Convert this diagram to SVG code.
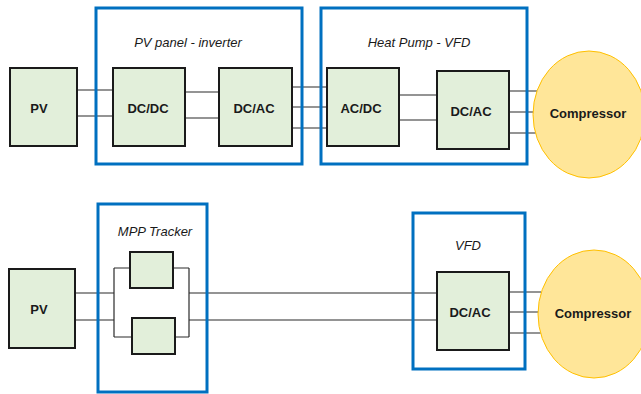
<svg xmlns="http://www.w3.org/2000/svg" width="641" height="394" viewBox="0 0 641 394">
<style>
.blk{fill:#E2EFDA;stroke:#1a1a1a;stroke-width:2}
.grp{fill:none;stroke:#0070C0;stroke-width:3}
.cmp{fill:#FFE699;stroke:#FFC000;stroke-width:1}
.w{stroke:#2b2b2b;stroke-width:1.2;fill:none}
.lbl{font-family:"Liberation Sans",Arial,sans-serif;font-weight:bold;font-size:13px;fill:#1a1a1a;text-anchor:middle;dominant-baseline:central}
.ttl{font-family:"Liberation Sans",Arial,sans-serif;font-style:italic;font-size:13px;fill:#1a1a1a;text-anchor:middle;dominant-baseline:central}
</style>
<rect width="641" height="394" fill="#ffffff"/>
<g id="connectors">
<path class="w" d="M77 90H113M77 116H113"/>
<path class="w" d="M183 92H219M183 118H219"/>
<path class="w" d="M292 87H327M292 107H327M292 128H327"/>
<path class="w" d="M399 95H437M399 120H437"/>
<path class="w" d="M509 91H537M509 112H534M509 133H537"/>
<path class="w" d="M75 293H114M75 320H114"/>
<path class="w" d="M114 268V337M114 268H130M114 337H132"/>
<path class="w" d="M173 268H189M175 337H189M189 268V337"/>
<path class="w" d="M189 293H437M189 320H437"/>
<path class="w" d="M509 292H541M509 312H539M509 333H541"/>
</g>
<g id="grp-pv-inverter"><rect class="grp" x="96" y="8" width="206" height="156"/><text class="ttl" x="188" y="42">PV panel - inverter</text></g>
<g id="grp-hp-vfd"><rect class="grp" x="321" y="8" width="206" height="156"/><text class="ttl" x="419" y="42">Heat Pump - VFD</text></g>
<g id="grp-mpp"><rect class="grp" x="98" y="204" width="109" height="188"/><text class="ttl" x="155" y="231">MPP Tracker</text></g>
<g id="grp-vfd"><rect class="grp" x="413" y="213" width="112" height="156"/><text class="ttl" x="468" y="245">VFD</text></g>
<g id="pv1"><rect class="blk" x="10" y="68" width="67" height="78"/><text class="lbl" x="39" y="108">PV</text></g>
<g id="dcdc1"><rect class="blk" x="113" y="68" width="72" height="78"/><text class="lbl" x="148" y="108">DC/DC</text></g>
<g id="dcac1"><rect class="blk" x="219" y="68" width="73" height="78"/><text class="lbl" x="254" y="108">DC/AC</text></g>
<g id="acdc1"><rect class="blk" x="327" y="68" width="72" height="78"/><text class="lbl" x="361" y="108">AC/DC</text></g>
<g id="dcac2"><rect class="blk" x="437" y="71" width="72" height="78"/><text class="lbl" x="471" y="111">DC/AC</text></g>
<g id="comp1"><ellipse class="cmp" cx="589" cy="114.5" rx="56" ry="63.5"/><text class="lbl" x="588" y="113">Compressor</text></g>
<g id="pv2"><rect class="blk" x="9" y="269" width="66" height="79"/><text class="lbl" x="39" y="309">PV</text></g>
<g id="mpp-a"><rect class="blk" x="130" y="252" width="43" height="36"/></g>
<g id="mpp-b"><rect class="blk" x="132" y="318" width="43" height="36"/></g>
<g id="dcac3"><rect class="blk" x="437" y="272" width="72" height="78"/><text class="lbl" x="470" y="312">DC/AC</text></g>
<g id="comp2"><ellipse class="cmp" cx="594" cy="314" rx="56" ry="64"/><text class="lbl" x="593" y="313">Compressor</text></g>
</svg>
